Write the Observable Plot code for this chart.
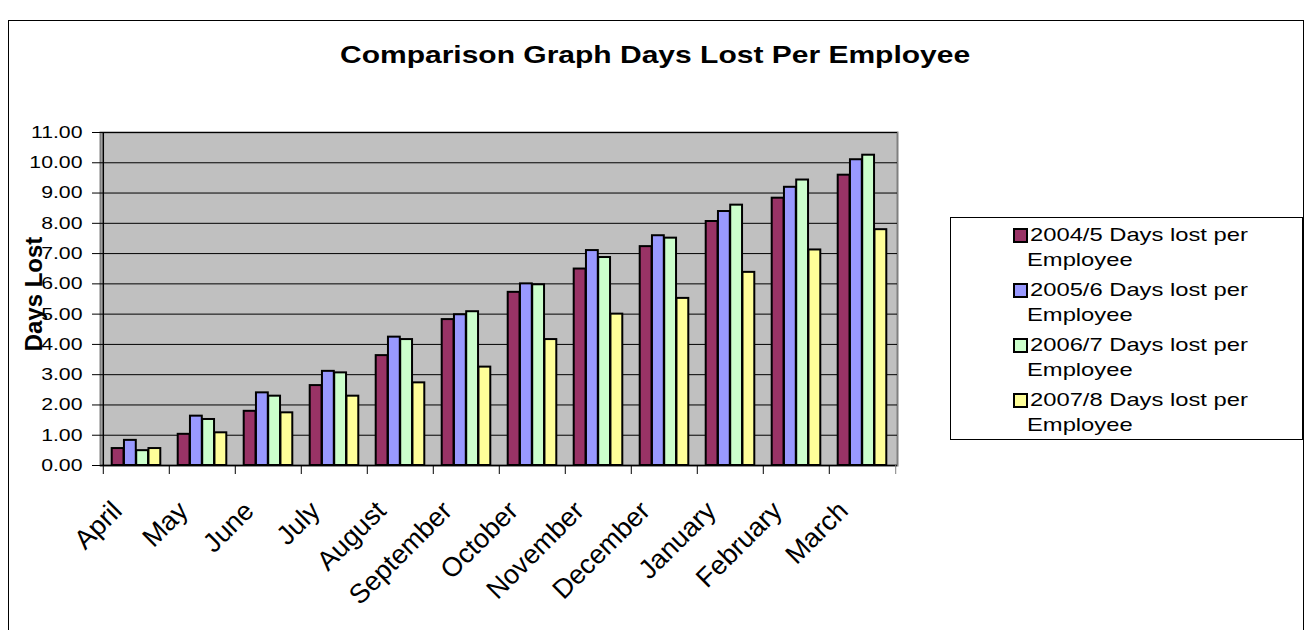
<!DOCTYPE html>
<html><head><meta charset="utf-8">
<script src="https://cdn.jsdelivr.net/npm/d3@7"></script>
<script src="https://cdn.jsdelivr.net/npm/@observablehq/plot@0.6"></script>
<style>
html,body{margin:0;padding:0;background:#fff;width:1311px;height:630px;overflow:hidden;font-family:"Liberation Sans",Arial,sans-serif;color:#000;}
#frame{position:absolute;left:8px;top:20px;width:1294px;height:700px;border:1px solid #000;}
#chart{position:absolute;left:0;top:0;}
#title{position:absolute;left:8px;width:1295px;top:41px;text-align:center;font-weight:bold;font-size:24px;line-height:28px;}
#title span{display:inline-block;transform:scaleX(1.25);transform-origin:center;}
#legend{position:absolute;left:950px;top:217px;width:351px;height:221px;border:1px solid #000;background:#fff;}
.entry{position:absolute;left:0;width:100%;}
.sw{position:absolute;left:62px;width:15px;height:15px;box-sizing:border-box;border:2px solid #000;}
.ln{position:absolute;font-size:19px;line-height:22px;white-space:nowrap;transform:scaleX(1.25);transform-origin:left center;}
</style>
</head><body>
<div id="frame"></div>
<div id="chart"></div>
<div id="title"><span></span></div>
<div id="legend"></div>
<script>
const titleText = "Comparison Graph Days Lost Per Employee";
const yLabel = "Days Lost";
const months = ["April","May","June","July","August","September","October","November","December","January","February","March"];
const series = ["2004/5 Days lost per Employee","2005/6 Days lost per Employee","2006/7 Days lost per Employee","2007/8 Days lost per Employee"];
const v2004 = [0.56, 1.03, 1.79, 2.64, 3.63, 4.82, 5.72, 6.49, 7.23, 8.06, 8.83, 9.59];
const v2005 = [0.83, 1.63, 2.40, 3.11, 4.24, 4.98, 6.00, 7.10, 7.59, 8.39, 9.19, 10.10];
const v2006 = [0.49, 1.52, 2.29, 3.06, 4.16, 5.08, 5.97, 6.87, 7.51, 8.60, 9.43, 10.25];
const v2007 = [0.56, 1.08, 1.74, 2.29, 2.73, 3.25, 4.16, 5.00, 5.52, 6.38, 7.12, 7.79];
const yTicks = [0,1,2,3,4,5,6,7,8,9,10,11];
const colors = ["#993366","#9999FF","#CCFFCC","#FFFF99"];

const seriesValues = [v2004, v2005, v2006, v2007];

const W = 1311, H = 630, mL = 100, mR = 414, mT = 132, mB = 165;
const band = (W - mL - mR) / months.length;
const barW = 12.25;
const off = (band - barW * series.length) / 2;

const barMarks = seriesValues.map((vals, s) =>
  Plot.barY(months.map((m, i) => ({month: m, value: vals[i], series: series[s]})), {
    x: "month", y: "value", fill: colors[s], stroke: "#000", strokeWidth: 2,
    insetLeft: off + s * barW, insetRight: band - off - (s + 1) * barW
  })
);

const chart = Plot.plot({
  width: W, height: H,
  marginLeft: mL, marginRight: mR, marginTop: mT, marginBottom: mB,
  style: {fontFamily: '"Liberation Sans", Arial, sans-serif', fontSize: "17px", color: "#000", background: "transparent"},
  x: {domain: months, padding: 0, label: null},
  y: {domain: [0, 11], label: null},
  marks: [
    Plot.frame({fill: "#C0C0C0", stroke: "#808080", strokeWidth: 2}),
    Plot.ruleY(yTicks, {stroke: "#000", strokeWidth: 1}),
    ...barMarks,
    Plot.ruleX([months[0]], {y1: 0, y2: 11, dx: -band / 2, stroke: "#000", strokeWidth: 1.5}),
    Plot.ruleY([0], {stroke: "#000", strokeWidth: 1.5}),
    Plot.ruleX(months, {y1: 0, y2: 0, insetBottom: -9, dx: -band / 2, stroke: "#000"}),
    Plot.ruleX([months[months.length - 1]], {y1: 0, y2: 0, insetBottom: -9, dx: band / 2, stroke: "#808080"}),
    Plot.axisY({ticks: yTicks, tickFormat: d3.format(".2f"), tickSize: 8, tickPadding: 10, stroke: "#000"}),
    Plot.axisX({tickSize: 0, tickRotate: -45, tickPadding: 47, dx: -13, fontSize: 27, textAnchor: "end", lineAnchor: "bottom"}),
    Plot.text([yLabel], {frameAnchor: "left", rotate: -90, dx: -59, dy: -5, fontWeight: "bold", fontSize: 24, textAnchor: "middle", lineAnchor: "bottom", fill: "#000"})
  ]
});
d3.select(chart).selectAll('g[aria-label="y-axis tick label"] text')
  .attr("transform", function() { return (this.getAttribute("transform") || "") + " scale(1.25,1)"; });
document.getElementById("chart").appendChild(chart);

document.querySelector("#title span").textContent = titleText;

const legend = document.getElementById("legend");
series.forEach((name, i) => {
  const e = document.createElement("div");
  e.className = "entry";
  e.style.top = (9 + i * 55) + "px";
  const sw = document.createElement("div");
  sw.className = "sw"; sw.style.background = colors[i]; sw.style.top = "1px";
  const words = name.split(" ");
  const l1 = document.createElement("div");
  l1.className = "ln"; l1.style.left = "79px"; l1.style.top = "-3px";
  l1.textContent = words.slice(0, -1).join(" ");
  const l2 = document.createElement("div");
  l2.className = "ln"; l2.style.left = "76px"; l2.style.top = "22px";
  l2.textContent = words[words.length - 1];
  e.appendChild(sw); e.appendChild(l1); e.appendChild(l2);
  legend.appendChild(e);
});
</script>
</body></html>
